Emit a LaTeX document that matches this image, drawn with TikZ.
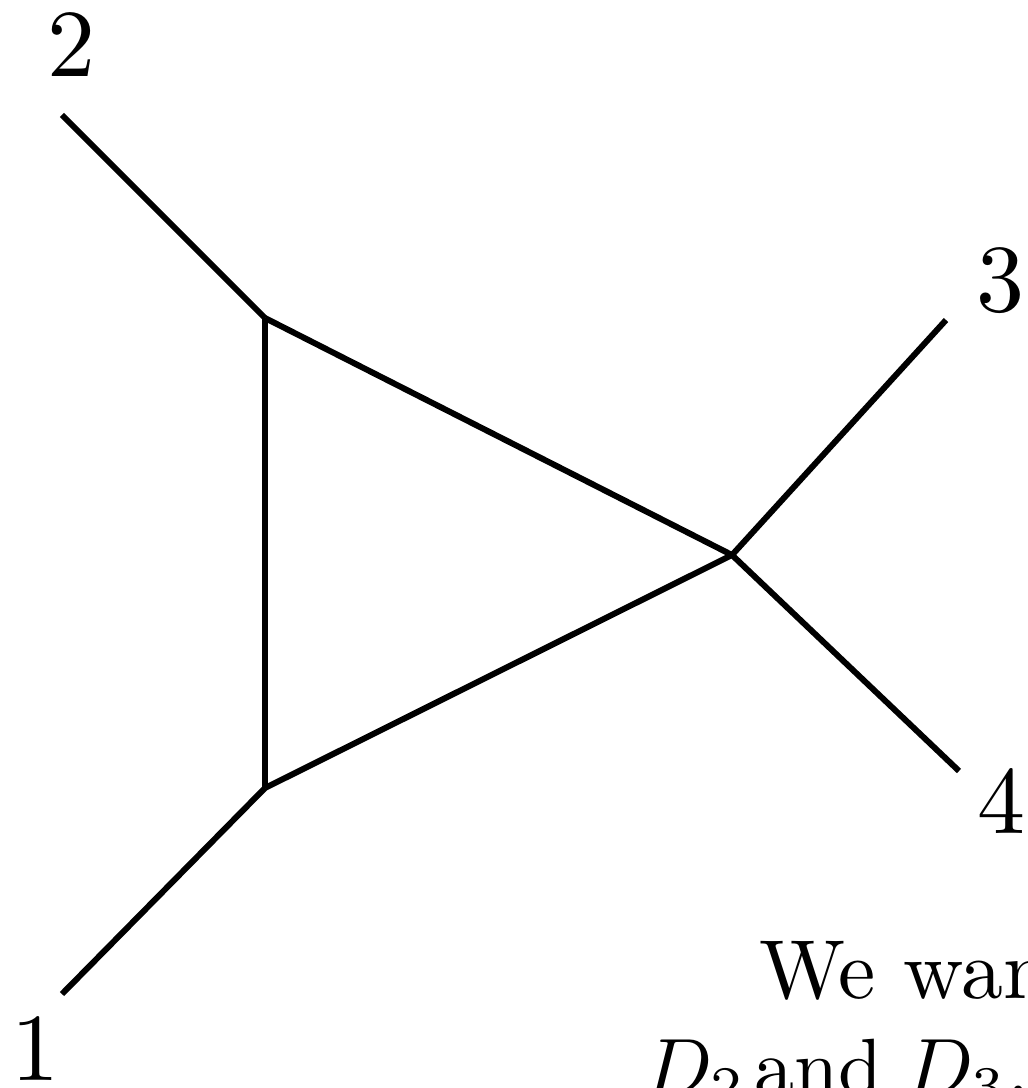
\documentclass[tikz,border=0pt]{standalone}
\begin{document}
\begin{tikzpicture}[x=0.01cm,y=-0.01cm,
  edge/.style={line width=1.7pt},
  lbl/.style={inner sep=0pt,anchor=base,font=\fontsize{10}{12}\selectfont,scale=2.73},
  txt/.style={inner sep=0pt,anchor=base west,font=\fontsize{10}{12}\selectfont,scale=2.38},
  txtb/.style={inner sep=0pt,anchor=base west,font=\fontsize{10}{12}\selectfont,scale=2.27}]
\useasboundingbox (0,0) rectangle (1027,1088);
\clip (0,0) rectangle (1027,1088);
\coordinate (v2) at (265,318);
\coordinate (v1) at (265,788);
\coordinate (v3) at (732,555);
\coordinate (e2) at (62,115);
\coordinate (e1) at (62,994);
\coordinate (e3) at (946,320);
\coordinate (e4) at (959,771);
\draw[edge] (e2) -- (v2);
\draw[edge] (e1) -- (v1);
\draw[edge] (v3) -- (e3);
\draw[edge] (v3) -- (e4);
\draw[edge] (v2) -- (v1);
\draw[edge] (v2) -- (v3);
\draw[edge] (v1) -- (v3);
\node[lbl] (l2) at (71.5,77) {2};
\node[lbl] (l1) at (36,1080) {1};
\node[lbl] (l3) at (1000,311) {3};
\node[lbl] (l4) at (1001.5,833) {4};
\node[txt] (t1) at (758,998) {We wan};
\node[txtb] (t2a) at (643,1094) {$D_2$};
\node[txtb] (t2b) at (753,1094) {and};
\node[txtb] (t2c) at (904,1094) {$D_3$.};
\end{tikzpicture}
\end{document}
